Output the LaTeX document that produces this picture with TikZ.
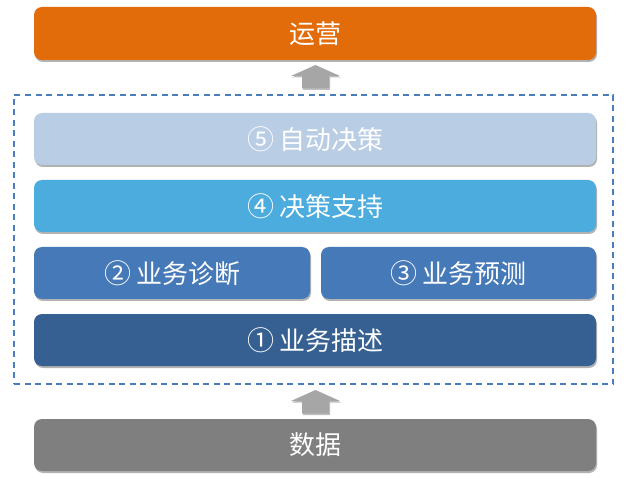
\documentclass[tikz,border=0pt]{standalone}
\usepackage{fontspec}
\setmainfont{Noto Sans CJK SC}
\usetikzlibrary{shadows}
\definecolor{cOrange}{HTML}{E36C0A}
\definecolor{cPale}{HTML}{B9CDE5}
\definecolor{cSky}{HTML}{4BACDD}
\definecolor{cMid}{HTML}{4579B8}
\definecolor{cDark}{HTML}{376092}
\definecolor{cGray}{HTML}{7F7F7F}
\definecolor{cArrow}{HTML}{A6A6A6}
\definecolor{cDash}{HTML}{4A7EBB}
\tikzset{
  layer/.style={rounded corners=8pt, inner sep=0pt, minimum height=52pt,
    text=white, font=\fontsize{26}{28}\selectfont,
    drop shadow={shadow xshift=1pt, shadow yshift=-2pt, opacity=0.3, fill=black}},
  frame/.style={draw=cDash, line width=1.6pt, dash pattern=on 6pt off 4.5pt, inner sep=0pt},
  blockarrow/.style={fill=cArrow,
    drop shadow={shadow xshift=1pt, shadow yshift=-1.5pt, opacity=0.25, fill=black}}
}
\newcommand\circnum[1]{{\fontsize{27}{28}\selectfont #1}\hspace{5pt}}
\begin{document}
\begin{tikzpicture}[x=1pt,y=-1pt]
\useasboundingbox[fill=white] (0,0) rectangle (629,478);
\node[layer, fill=cOrange, minimum width=562pt, minimum height=53pt] (op) at (315,33.5) {运营};
\node[frame, minimum width=599pt, minimum height=289pt] (box) at (313.5,239.5) {};
\node[layer, fill=cPale, minimum width=562pt] (auto) at (315,139) {\circnum{⑤}自动决策};
\node[layer, fill=cSky, minimum width=562pt] (support) at (315,206) {\circnum{④}决策支持};
\node[layer, fill=cMid, minimum width=276pt] (diag) at (172,273) {\circnum{②}业务诊断};
\node[layer, fill=cMid, minimum width=275pt] (pred) at (458.5,273) {\circnum{③}业务预测};
\node[layer, fill=cDark, minimum width=562pt] (desc) at (315,340) {\circnum{①}业务描述};
\node[layer, fill=cGray, minimum width=562pt] (data) at (315,445) {数据};
\coordinate (tipA) at (315.5,65);
\coordinate (tipB) at (315.5,390);
\foreach \t in {tipA,tipB}
  \fill[blockarrow] (\t) -- ++(24.5,11) -- ++(-11,0) -- ++(0,12.5) -- ++(-27,0) -- ++(0,-12.5) -- ++(-11,0) -- cycle;
\end{tikzpicture}
\end{document}
